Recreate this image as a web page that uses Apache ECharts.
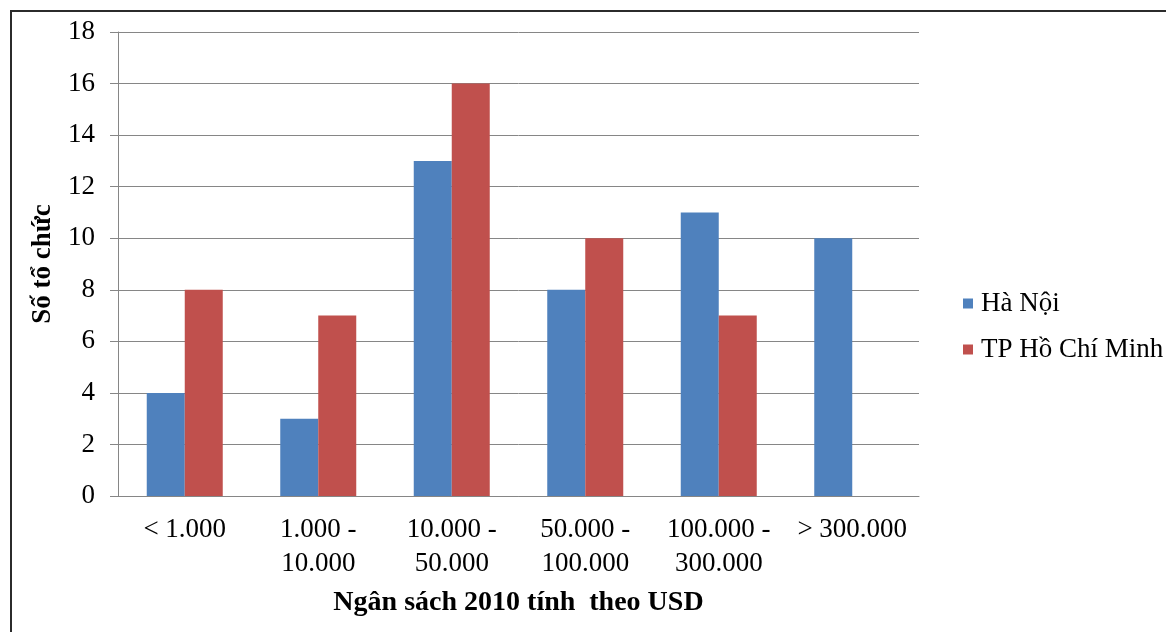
<!DOCTYPE html>
<html>
<head>
<meta charset="utf-8">
<script src="https://cdn.jsdelivr.net/npm/echarts@6/dist/echarts.min.js"></script>
<style>
  html, body { margin: 0; padding: 0; background: #fff; }
  #chart { width: 1166px; height: 632px; }
</style>
</head>
<body>
<div id="chart"></div>
<script>
// Budget ranges (USD, 2010) and number of organisations per city
const categories = ['< 1.000', '1.000 -\n10.000', '10.000 -\n50.000', '50.000 -\n100.000', '100.000 -\n300.000', '> 300.000'];
const haNoi = [4, 3, 13, 8, 11, 10];
const hoChiMinh = [8, 7, 16, 10, 7, 0];
const seriesNames = ['Hà Nội', 'TP Hồ Chí Minh'];
const yTicks = { min: 0, max: 18, interval: 2 };

const serif = '"Liberation Serif", "Times New Roman", serif';
const chart = echarts.init(document.getElementById('chart'));

chart.setOption({
  animation: false,
  backgroundColor: '#fff',
  textStyle: { fontFamily: serif },
  graphic: [{
    type: 'rect',
    shape: { x: 11, y: 11, width: 1200, height: 700 },
    style: { fill: 'none', stroke: '#2b2b2b', lineWidth: 2 },
    silent: true
  }],
  grid: { left: 118, right: 247, top: 32, bottom: 136, containLabel: false },
  legend: {
    orient: 'vertical',
    left: 958,
    top: 285,
    itemWidth: 10,
    itemHeight: 10,
    itemGap: 19,
    icon: 'rect',
    textStyle: { fontFamily: serif, fontSize: 27, color: '#000', padding: [0, 0, 0, 3] },
    data: seriesNames
  },
  xAxis: {
    type: 'category',
    data: categories,
    axisLine: { lineStyle: { color: '#868686', width: 1 } },
    axisTick: { show: false },
    axisLabel: {
      fontFamily: serif, fontSize: 27, color: '#000',
      margin: 17, lineHeight: 34, interval: 0
    },
    name: 'Ngân sách 2010 tính  theo USD',
    nameLocation: 'middle',
    nameGap: 93,
    nameTextStyle: { fontFamily: serif, fontSize: 28, fontWeight: 'bold', color: '#000' }
  },
  yAxis: {
    type: 'value',
    min: yTicks.min,
    max: yTicks.max,
    interval: yTicks.interval,
    axisLine: { show: true, lineStyle: { color: '#868686', width: 1 } },
    axisTick: { show: true, length: 8, lineStyle: { color: '#868686' } },
    splitLine: { lineStyle: { color: '#868686', width: 1 } },
    axisLabel: { fontFamily: serif, fontSize: 27, color: '#000', margin: 23 },
    name: 'Số tổ chức',
    nameLocation: 'middle',
    nameGap: 61,
    nameTextStyle: { fontFamily: serif, fontSize: 27, fontWeight: 'bold', color: '#000' }
  },
  series: [
    {
      name: seriesNames[0], type: 'bar', data: haNoi,
      barWidth: 38, barGap: '0%',
      itemStyle: { color: '#4F81BD' }
    },
    {
      name: seriesNames[1], type: 'bar', data: hoChiMinh,
      barWidth: 38, barGap: '0%',
      itemStyle: { color: '#C0504D' }
    }
  ]
});
</script>
</body>
</html>
